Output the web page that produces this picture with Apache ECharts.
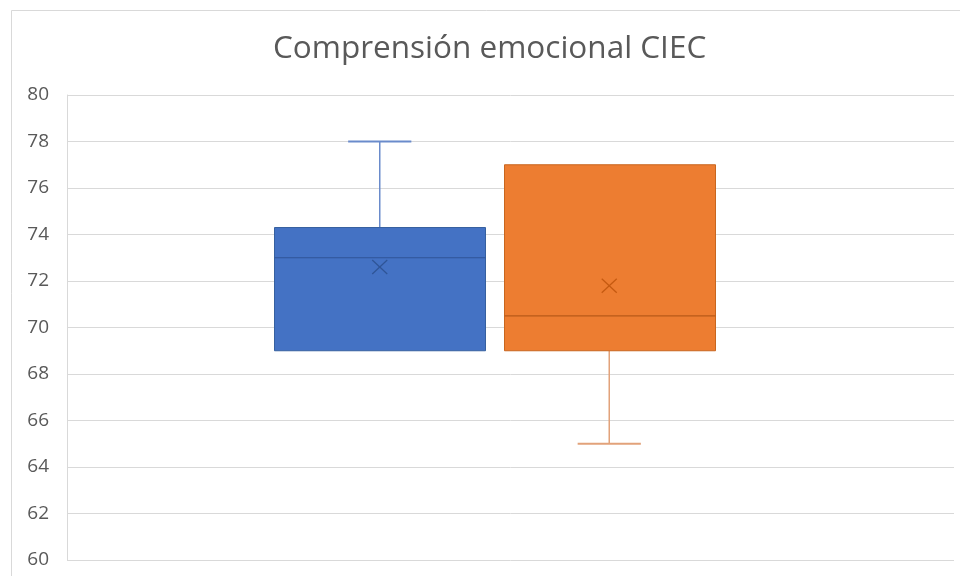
<!DOCTYPE html>
<html>
<head>
<meta charset="utf-8">
<script src="https://cdn.jsdelivr.net/npm/echarts@6/dist/echarts.min.js"></script>
<style>html,body{margin:0;padding:0;background:#fff;}#chart{width:960px;height:576px;}</style>
</head>
<body>
<div id="chart"></div>
<script>
var titleText = 'Comprensión emocional CIEC';
var categories = ['Grupo 1', 'Grupo 2'];
var minValues = [69, 65];
var q1Values = [69, 69];
var medianValues = [73, 70.5];
var q3Values = [74.3, 77];
var maxValues = [78, 77];
var meanValues = [72.6, 71.8];
var yMin = 60, yMax = 80, yStep = 2;

var fillColors = ['#4472C4', '#ED7D31'];
var borderColors = ['#36609f', '#c8661f'];
var medianColors = ['#2F5597', '#B85A18'];
var whiskerColors = ['#6a8bcb', '#e2a27a'];
var meanColors = ['#2F5597', '#C55A11'];

var data = categories.map(function (c, i) {
  return [i, minValues[i], q1Values[i], medianValues[i], q3Values[i], maxValues[i], meanValues[i]];
});

function renderItem(params, api) {
  var idx = api.value(0);
  var band = api.size([1, 0])[0];
  var boxW = band * 0.918;
  var capW = boxW * 0.3;
  var cx = api.coord([idx, api.value(3)])[0];
  var yOf = function (v) { return api.coord([idx, v])[1]; };
  var yMinP = yOf(api.value(1)), yQ1 = yOf(api.value(2)), yMed = yOf(api.value(3)),
      yQ3 = yOf(api.value(4)), yMaxP = yOf(api.value(5)), yMean = yOf(api.value(6));
  var x0 = Math.round(cx - boxW / 2) + 0.5, x1 = Math.round(cx + boxW / 2) + 0.5;
  var wc = whiskerColors[idx];
  var children = [];
  if (api.value(5) > api.value(4)) {
    children.push({ type: 'line', shape: { x1: cx, y1: yQ3, x2: cx, y2: yMaxP }, style: { stroke: wc, lineWidth: 1.5 } });
    children.push({ type: 'line', shape: { x1: cx - capW / 2, y1: yMaxP, x2: cx + capW / 2, y2: yMaxP }, style: { stroke: wc, lineWidth: 2 } });
  }
  if (api.value(1) < api.value(2)) {
    children.push({ type: 'line', shape: { x1: cx, y1: yQ1, x2: cx, y2: yMinP }, style: { stroke: wc, lineWidth: 1.5 } });
    children.push({ type: 'line', shape: { x1: cx - capW / 2, y1: yMinP, x2: cx + capW / 2, y2: yMinP }, style: { stroke: wc, lineWidth: 2 } });
  }
  children.push({ type: 'rect', shape: { x: x0, y: yQ3, width: x1 - x0, height: yQ1 - yQ3 }, style: { fill: fillColors[idx], stroke: borderColors[idx], lineWidth: 1 } });
  children.push({ type: 'line', shape: { x1: x0, y1: yMed, x2: x1, y2: yMed }, style: { stroke: medianColors[idx], lineWidth: 1.2 } });
  var h = 7.5, v = 7;
  children.push({ type: 'line', shape: { x1: cx - h, y1: yMean - v, x2: cx + h, y2: yMean + v }, style: { stroke: meanColors[idx], lineWidth: 1.3 } });
  children.push({ type: 'line', shape: { x1: cx - h, y1: yMean + v, x2: cx + h, y2: yMean - v }, style: { stroke: meanColors[idx], lineWidth: 1.3 } });
  return { type: 'group', children: children };
}

var chart = echarts.init(document.getElementById('chart'), null, { renderer: 'canvas' });
chart.setOption({
  animation: false,
  backgroundColor: '#fff',
  title: {
    text: titleText,
    left: 268,
    top: 28,
    textStyle: { fontFamily: 'Open Sans', fontSize: 31.5, fontWeight: 'normal', color: '#595959' }
  },
  graphic: [{
    type: 'rect', z: -10, silent: true,
    shape: { x: 11.5, y: 10.5, width: 1000, height: 1000 },
    style: { fill: 'none', stroke: '#d9d9d9', lineWidth: 1 }
  }],
  grid: [
    { left: 67, right: 6, top: 95, bottom: 16 },
    { left: 265, right: 236, top: 95, bottom: 16 }
  ],
  xAxis: [
    { type: 'category', gridIndex: 0, data: [''], axisLine: { show: false }, axisTick: { show: false }, axisLabel: { show: false } },
    { type: 'category', gridIndex: 1, data: categories, axisLine: { show: false }, axisTick: { show: false }, axisLabel: { show: false } }
  ],
  yAxis: [
    {
      type: 'value', gridIndex: 0, min: yMin, max: yMax, interval: yStep,
      axisLine: { show: true, lineStyle: { color: '#d9d9d9', width: 1 } },
      axisTick: { show: false },
      splitLine: { show: true, lineStyle: { color: '#d9d9d9', width: 1 } },
      axisLabel: { color: '#595959', fontSize: 19, fontFamily: 'Open Sans', margin: 18 }
    },
    {
      type: 'value', gridIndex: 1, min: yMin, max: yMax, show: false, splitLine: { show: false }
    }
  ],
  series: [{
    type: 'custom',
    xAxisIndex: 1, yAxisIndex: 1,
    renderItem: renderItem,
    data: data,
    encode: { x: 0, y: [1, 2, 3, 4, 5, 6] }
  }]
});
</script>
</body>
</html>
